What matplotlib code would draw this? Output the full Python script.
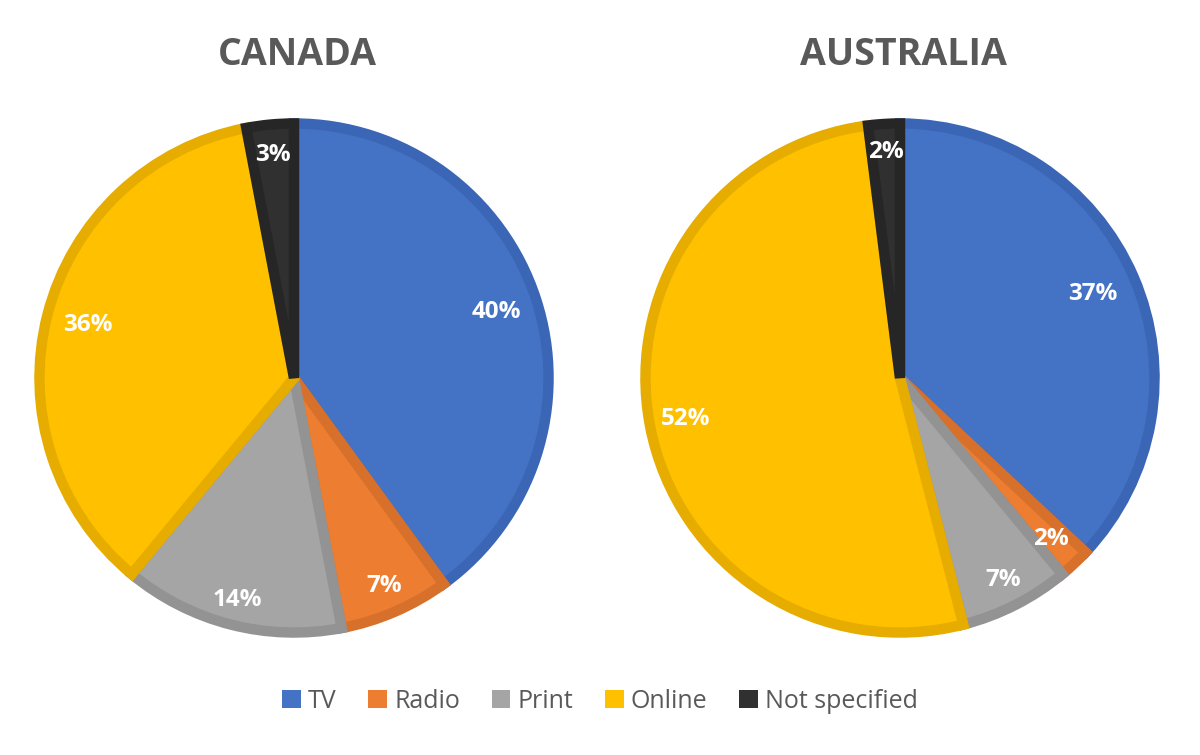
import matplotlib
matplotlib.use("Agg")
import matplotlib.pyplot as plt
from matplotlib.patches import Patch
import numpy as np

categories = ["TV", "Radio", "Print", "Online", "Not specified"]
canada = [40, 7, 14, 36, 3]
australia = [37, 2, 7, 52, 2]
titles = ["CANADA", "AUSTRALIA"]

colors = ["#4472C4", "#ED7D31", "#A5A5A5", "#FFC000", "#303030"]
edges = ["#3B66B5", "#D6702B", "#939393", "#E6AC00", "#262626"]

plt.rcParams['font.family'] = ['Open Sans', 'DejaVu Sans']
fig = plt.figure(figsize=(12, 7.55), dpi=100)

label_dist = {
    0: [0.82, 0.87, 0.88, 0.82, 0.86],
    1: [0.81, 0.85, 0.87, 0.84, 0.87],
}

pos = [(34, 638), (640, 638)]
for i, (vals, title) in enumerate(zip([canada, australia], titles)):
    left = pos[i][0] / 1200
    bottom = (755 - pos[i][1]) / 755
    ax = fig.add_axes([left, bottom, 520 / 1200, 520 / 755])
    wedges, _ = ax.pie(vals, colors=colors, startangle=90, counterclock=False,
                       radius=0.979, wedgeprops=dict(linewidth=7.5))
    for w, ec in zip(wedges, edges):
        w.set_edgecolor(ec)
        w.set_joinstyle('miter')
    total = sum(vals)
    for k, w in enumerate(wedges):
        ang = np.deg2rad((w.theta1 + w.theta2) / 2)
        d = label_dist[i][k]
        ax.text(d * np.cos(ang), d * np.sin(ang), f"{round(100 * vals[k] / total)}%",
                ha='center', va='center', color='white', fontsize=17.5, fontweight='bold')
    ax.set_xlim(-1, 1)
    ax.set_ylim(-1, 1)
    ax.set_aspect('equal')
    ax.axis('off')
    cx = (pos[i][0] + 3 + 260) / 1200
    fig.text(cx, 1 - 55 / 755, title, ha='center', va='center', fontsize=27,
             fontweight='bold', color='#595959')

handles = [Patch(facecolor=c, edgecolor='none', label=l) for c, l in zip(colors, categories)]
fig.legend(handles=handles, loc='center', bbox_to_anchor=(0.5, 1 - 701 / 755), ncol=5,
           frameon=False, fontsize=18, handlelength=0.75, handleheight=0.75,
           handletextpad=0.3, columnspacing=1.25, labelcolor='#595959')

fig.savefig("out.png", dpi=100)
